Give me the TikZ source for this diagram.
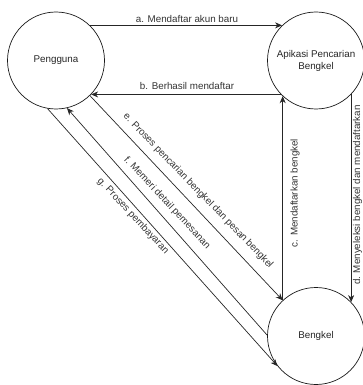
\documentclass[tikz,border=0pt]{standalone}
\usepackage{fontspec}
\setmainfont{Liberation Sans}
\usetikzlibrary{arrows.meta}
\newcommand{\fs}{\fontsize{9.8}{12}\selectfont}
\begin{document}
\begin{tikzpicture}[x=1pt,y=-1pt,
  ent/.style={circle,draw=black!90,line width=0.7pt,minimum size=97pt,inner sep=0pt,font=\fs,text=black!85,align=center},
  flow/.style={draw=black!85,line width=0.7pt,-{Stealth[length=7pt,width=6pt]}},
  lbl/.style={font=\fs,text=black!80,inner sep=0pt}]
\useasboundingbox (0,0) rectangle (363,385);
\node[ent] (peng) at (56,60.5) {Pengguna};
\node[ent] (apk) at (316,60.5) {Apikasi Pencarian\\Bengkel};
\node[ent] (beng) at (316,336) {Bengkel};
% connectors
\draw[flow] (peng.46) -- (apk.134);
\draw[flow] (apk.-136) -- (peng.-44);
\draw[flow] (beng.133) -- (apk.-133);
\draw[flow] (apk.-44) -- (beng.44);
\draw[flow] (peng.-46) -- (beng.133);
\draw[flow] (beng.179) -- (peng.-77);
\draw[flow] (peng.-100) -- (beng.-142);
% labels
\node[lbl] (la) at (187,19) {a. Mendaftar akun baru};
\node[lbl] (lb) at (187,86) {b. Berhasil mendaftar};
\node[lbl,rotate=90] (lc) at (295,193) {c. Mendaftarkan bengkel};
\node[lbl,rotate=90] (ld) at (357.5,195) {d. Menyeleksi bengkel dan mendaftarkan};
\node[lbl,rotate=-46] (le) at (198,191) {e. Proses pencarian bengkel dan pesan bengkel};
\node[lbl,rotate=-47] (lf) at (167,203) {f. Memeri detail pemesanan};
\node[lbl,rotate=-47] (lg) at (133,216) {g. Proses pembayaran};
\end{tikzpicture}
\end{document}
